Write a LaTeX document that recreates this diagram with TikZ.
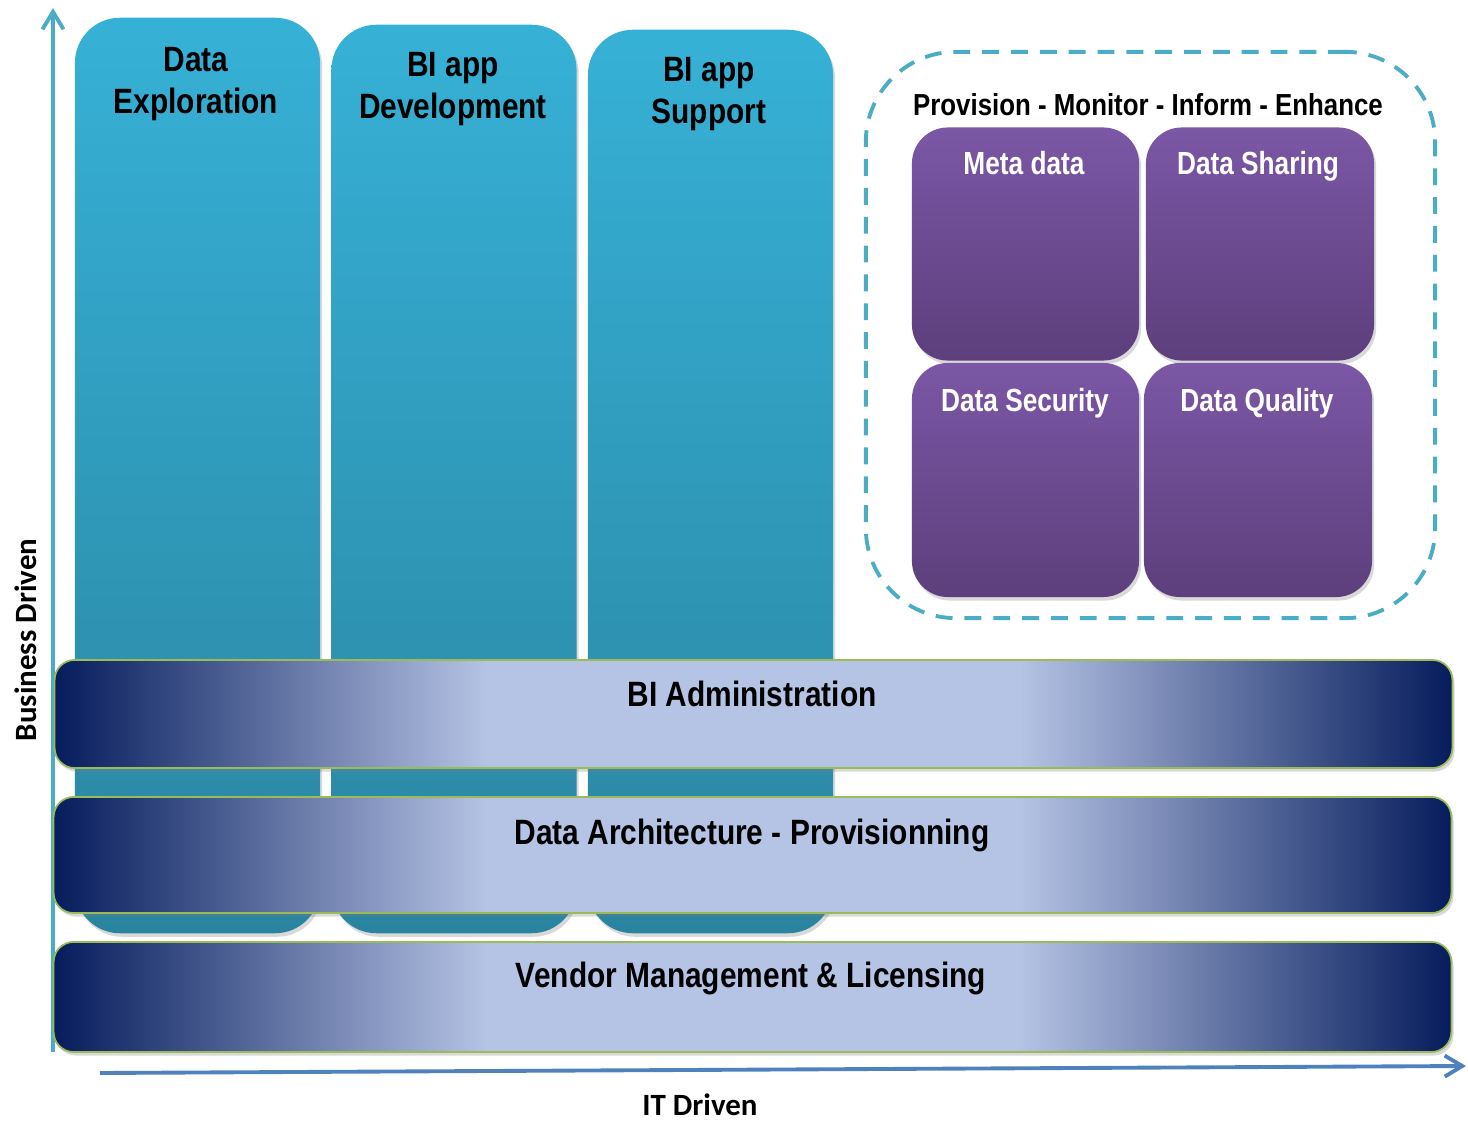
\documentclass[tikz,border=0pt]{standalone}
\usepackage{fontspec}
\setmainfont{Liberation Sans}
\newfontfamily\narrow{Liberation Sans}[FakeStretch=0.85]
\newfontfamily\narroww{Liberation Sans}[FakeStretch=0.82]
\newfontfamily\carlito{Carlito}
\usetikzlibrary{shadows,arrows.meta}
\definecolor{colTop}{HTML}{36B1D6}
\definecolor{colBot}{HTML}{2A84A0}
\definecolor{bandDark}{HTML}{061C5C}
\definecolor{bandLight}{HTML}{B5C3E4}
\definecolor{bandEdge}{HTML}{9BBB59}
\definecolor{purTop}{HTML}{7B57A5}
\definecolor{purBot}{HTML}{5D3F7C}
\definecolor{dashCol}{HTML}{4BACC6}
\definecolor{vaxis}{HTML}{4BACC6}
\definecolor{haxis}{HTML}{4F81BD}
\pgfdeclarehorizontalshading{bandshade}{100bp}{color(0bp)=(bandDark); color(25bp)=(bandDark); color(40.5bp)=(bandLight); color(59.5bp)=(bandLight); color(75bp)=(bandDark); color(100bp)=(bandDark)}
\tikzset{
  shad/.style={drop shadow={opacity=0.3,shadow xshift=0.6pt,shadow yshift=-1pt}},
  column/.style={rounded corners=0.45cm, top color=colTop, bottom color=colBot, minimum width=2.45cm, inner sep=0pt, shad},
  band/.style={rounded corners=0.2cm, shading=bandshade, draw=bandEdge, line width=0.5pt, minimum width=13.97cm, inner sep=0pt, shad},
  purplebox/.style={rounded corners=0.36cm, top color=purTop, bottom color=purBot, minimum width=2.27cm, minimum height=2.33cm, inner sep=0pt, shad},
  dashbox/.style={draw=dashCol, line width=1.1pt, dash pattern=on 4.8pt off 3.4pt, rounded corners=0.9cm, minimum width=5.69cm, minimum height=5.66cm, inner sep=0pt},
  mainlbl/.style={font=\narrow\bfseries\fontsize{10}{12}\selectfont, align=center, inner sep=0pt, text=black},
  titlelbl/.style={font=\narrow\bfseries\fontsize{8.65}{10}\selectfont, inner sep=0pt, text=black},
  whitelbl/.style={font=\narroww\bfseries\fontsize{9.1}{11}\selectfont, inner sep=0pt, text=white},
  axislbl/.style={font=\carlito\bfseries\fontsize{8.8}{10}\selectfont, inner sep=0pt, text=black},
  axisline/.style={line width=1.1pt, -{Straight Barb[length=5pt,width=6pt]}}
}
\begin{document}
\begin{tikzpicture}[x=0.01cm,y=-0.01cm]
\useasboundingbox (0,0) rectangle (1468,1121);
% axes
\coordinate (vb) at (53,1052);
\coordinate (vt) at (53,8);
\draw[axisline, vaxis] (vb) -- (vt);
\coordinate (hl) at (100,1073);
\coordinate (hr) at (1466,1066);
\draw[axisline, haxis] (hl) -- (hr);
% columns
\node[column, minimum height=9.15cm] (col1) at (197.5,475.5) {};
\node[column, minimum height=9.08cm] (col2) at (454,479) {};
\node[column, minimum height=9.03cm] (col3) at (710.5,481.5) {};
\node[mainlbl] (col1t) at (196,84) {Data\\Exploration};
\node[mainlbl] (col2t) at (453,89) {BI app\\Development};
\node[mainlbl] (col3t) at (709,94) {BI app\\Support};
% bands
\node[band, minimum height=1.08cm] (band1) at (753.5,714) {};
\node[band, minimum height=1.16cm] (band2) at (752.5,855) {};
\node[band, minimum height=1.10cm] (band3) at (752.5,997) {};
\node[mainlbl, anchor=base] (band1t) at (752,706) {BI Administration};
\node[mainlbl, anchor=base] (band2t) at (752,844) {Data Architecture - Provisionning};
\node[mainlbl, anchor=base] (band3t) at (751,988) {Vendor Management \& Licensing};
% group
\node[dashbox] (grp) at (1150.5,335) {};
\node[titlelbl, anchor=base] (grpt) at (1148,116) {Provision - Monitor - Inform - Enhance};
\node[purplebox] (md) at (1025.5,244) {};
\node[purplebox, minimum width=2.28cm] (dsh) at (1260,244) {};
\node[purplebox, minimum height=2.34cm] (dsec) at (1025.5,480) {};
\node[purplebox, minimum width=2.28cm, minimum height=2.34cm] (dq) at (1258,480) {};
\node[whitelbl, anchor=base] (mdt) at (1024,175) {Meta data};
\node[whitelbl, anchor=base] (dsht) at (1258,175) {Data Sharing};
\node[whitelbl, anchor=base] (dsect) at (1025,412) {Data Security};
\node[whitelbl, anchor=base] (dqt) at (1257,412) {Data Quality};
% axis labels
\node[axislbl, anchor=base, rotate=90] (bd) at (36,640) {Business Driven};
\node[axislbl, anchor=base] (itd) at (700,1115) {IT Driven};
\end{tikzpicture}
\end{document}
